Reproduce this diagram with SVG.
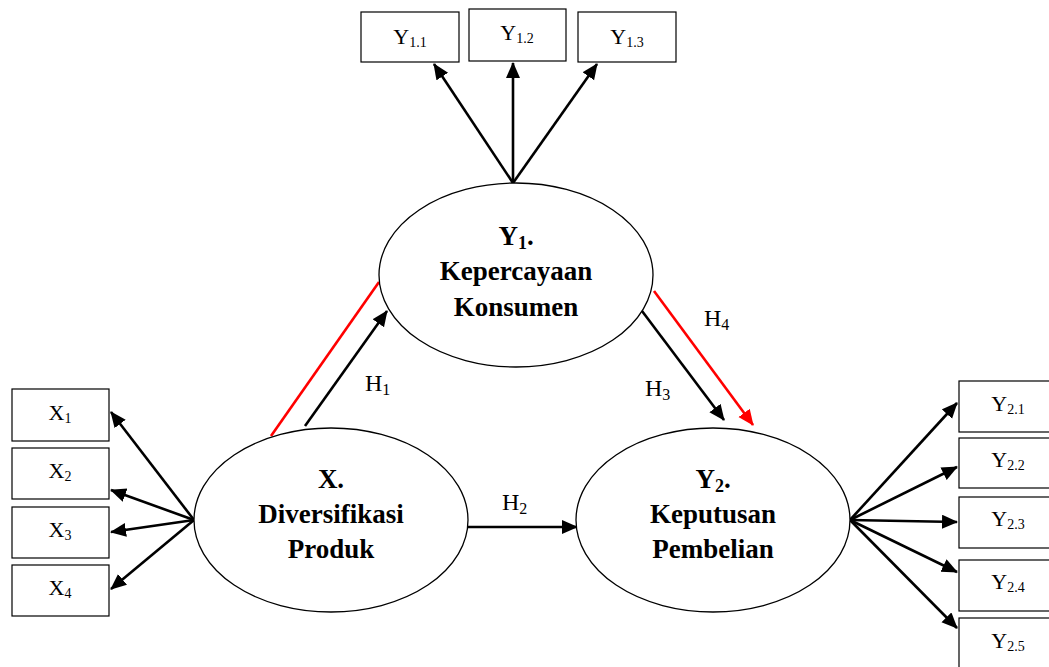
<svg xmlns="http://www.w3.org/2000/svg" width="1049" height="667" viewBox="0 0 1049 667">
<defs>
<style>
.box{fill:#fff;stroke:#000;stroke-width:1.2}
.ell{fill:#fff;stroke:#000;stroke-width:1.3}
.lbl{font-family:"Liberation Serif","Times New Roman",serif;font-size:22px;fill:#000;text-anchor:middle}
.sub{font-size:14px}
.big{font-family:"Liberation Serif","Times New Roman",serif;font-size:27px;font-weight:bold;fill:#000;text-anchor:middle}
.bsub{font-size:18px}
.c{stroke:#000;stroke-width:2.6;fill:none;marker-end:url(#ah)}
.r{stroke:#ff0000;stroke-width:2.6;fill:none}
.h{font-family:"Liberation Serif","Times New Roman",serif;font-size:24px;fill:#000}
.hs{font-size:16px}
</style>
<marker id="ah" markerUnits="userSpaceOnUse" markerWidth="18" markerHeight="16" refX="15" refY="7" orient="auto">
<path d="M0,0 L16,7 L0,14 Z" fill="#000"/>
</marker>
<marker id="ahr" markerUnits="userSpaceOnUse" markerWidth="18" markerHeight="16" refX="15" refY="7" orient="auto">
<path d="M0,0 L16,7 L0,14 Z" fill="#ff0000"/>
</marker>
</defs>
<g id="connectors">
<line class="c" x1="513" y1="183" x2="434" y2="64"/>
<line class="c" x1="513" y1="183" x2="513" y2="63"/>
<line class="c" x1="513" y1="183" x2="597" y2="64"/>
<line class="c" x1="194" y1="520" x2="111" y2="412"/>
<line class="c" x1="194" y1="520" x2="111" y2="490"/>
<line class="c" x1="194" y1="520" x2="111" y2="532"/>
<line class="c" x1="194" y1="520" x2="111" y2="589"/>
<line class="c" x1="850" y1="520" x2="957" y2="403"/>
<line class="c" x1="850" y1="520" x2="957" y2="467"/>
<line class="c" x1="850" y1="520" x2="957" y2="522"/>
<line class="c" x1="850" y1="520" x2="957" y2="572"/>
<line class="c" x1="850" y1="520" x2="957" y2="628"/>
<line class="c" x1="305" y1="426" x2="387" y2="311"/>
<line class="r" x1="271" y1="436" x2="379" y2="282"/>
<line class="c" x1="642" y1="311" x2="724" y2="420"/>
<line class="r" x1="654" y1="291" x2="753" y2="425" style="marker-end:url(#ahr)"/>
<line class="c" x1="468" y1="527" x2="577" y2="527"/>
</g>
<g id="labels">
<text class="h" x="365" y="391">H<tspan class="hs" dy="4">1</tspan></text>
<text class="h" x="502" y="510">H<tspan class="hs" dy="4">2</tspan></text>
<text class="h" x="645" y="396">H<tspan class="hs" dy="4">3</tspan></text>
<text class="h" x="704" y="326">H<tspan class="hs" dy="4">4</tspan></text>
</g>
<g id="Y1">
<ellipse class="ell" cx="516" cy="275" rx="137" ry="92"/>
<text class="big" x="516" y="245">Y<tspan class="bsub" dy="4">1</tspan><tspan dy="-4">.</tspan></text>
<text class="big" x="516" y="280">Kepercayaan</text>
<text class="big" x="516" y="316">Konsumen</text>
</g>
<g id="X">
<ellipse class="ell" cx="331" cy="520" rx="137" ry="92"/>
<text class="big" x="331" y="488">X.</text>
<text class="big" x="331" y="523">Diversifikasi</text>
<text class="big" x="331" y="558">Produk</text>
</g>
<g id="Y2">
<ellipse class="ell" cx="713" cy="520" rx="137" ry="92"/>
<text class="big" x="713" y="488">Y<tspan class="bsub" dy="4">2</tspan><tspan dy="-4">.</tspan></text>
<text class="big" x="713" y="523">Keputusan</text>
<text class="big" x="713" y="558">Pembelian</text>
</g>
<g id="Y1_1"><rect class="box" x="361" y="12" width="98" height="50"/><text class="lbl" x="410" y="44">Y<tspan class="sub" dy="3">1.1</tspan></text></g>
<g id="Y1_2"><rect class="box" x="469" y="9" width="97" height="52"/><text class="lbl" x="517" y="40">Y<tspan class="sub" dy="3">1.2</tspan></text></g>
<g id="Y1_3"><rect class="box" x="578" y="12" width="98" height="50"/><text class="lbl" x="627" y="44">Y<tspan class="sub" dy="3">1.3</tspan></text></g>
<g id="X1"><rect class="box" x="12" y="389" width="97" height="52"/><text class="lbl" x="60" y="420">X<tspan class="sub" dy="3">1</tspan></text></g>
<g id="X2"><rect class="box" x="12" y="448" width="97" height="51"/><text class="lbl" x="60" y="478">X<tspan class="sub" dy="3">2</tspan></text></g>
<g id="X3"><rect class="box" x="12" y="507" width="97" height="51"/><text class="lbl" x="60" y="537">X<tspan class="sub" dy="3">3</tspan></text></g>
<g id="X4"><rect class="box" x="12" y="565" width="97" height="51"/><text class="lbl" x="60" y="595">X<tspan class="sub" dy="3">4</tspan></text></g>
<g id="Y2_1"><rect class="box" x="959" y="381" width="97" height="51"/><text class="lbl" x="1008" y="411">Y<tspan class="sub" dy="3">2.1</tspan></text></g>
<g id="Y2_2"><rect class="box" x="959" y="438" width="97" height="50"/><text class="lbl" x="1008" y="467">Y<tspan class="sub" dy="3">2.2</tspan></text></g>
<g id="Y2_3"><rect class="box" x="959" y="497" width="97" height="51"/><text class="lbl" x="1008" y="526">Y<tspan class="sub" dy="3">2.3</tspan></text></g>
<g id="Y2_4"><rect class="box" x="959" y="560" width="97" height="51"/><text class="lbl" x="1008" y="589">Y<tspan class="sub" dy="3">2.4</tspan></text></g>
<g id="Y2_5"><rect class="box" x="959" y="618" width="97" height="51"/><text class="lbl" x="1008" y="648">Y<tspan class="sub" dy="3">2.5</tspan></text></g>
</svg>
